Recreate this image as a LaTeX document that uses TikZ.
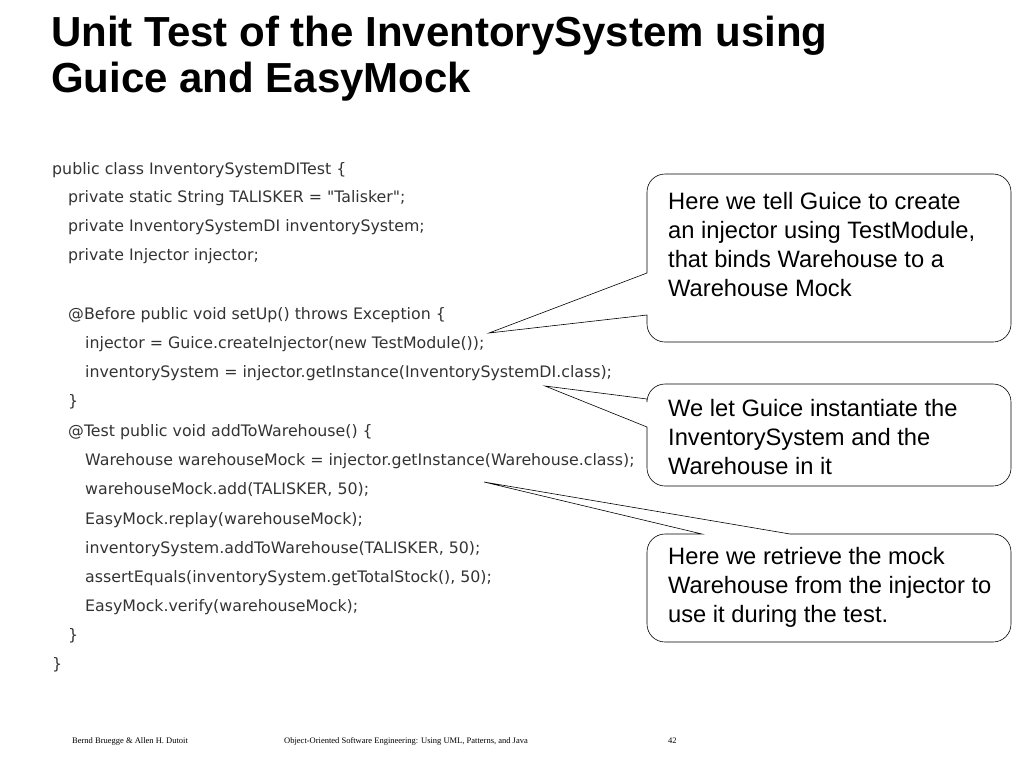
\documentclass[tikz,border=0pt]{standalone}
\usepackage{fontspec}
\setmainfont{Liberation Sans}
\newfontfamily\codefont{DejaVu Sans}
\newfontfamily\footfont{Liberation Serif}

\tikzset{
  code/.style={anchor=west, inner sep=0pt, font=\codefont\fontsize{15.8}{18}\selectfont, text=black!80},
  note/.style={anchor=west, inner sep=0pt, align=left, font=\fontsize{23.7}{29}\selectfont},
  foot/.style={anchor=west, inner sep=0pt, font=\footfont\fontsize{8.5}{10}\selectfont},
  callout/.style={draw=black, line width=0.6pt, fill=white}
}

\begin{document}
\begin{tikzpicture}[x=1pt, y=-1pt]
  \useasboundingbox (0,0) rectangle (1024,768);

  % title
  \node[anchor=west, inner sep=0pt, align=left, font=\bfseries\fontsize{42}{46}\selectfont] (title) at (51,59) {Unit Test of the InventorySystem using\\Guice and EasyMock};

  % code listing
  \node[code] (c1)  at (52,170) {public class InventorySystemDITest \{};
  \node[code] (c2)  at (68,198) {private static String TALISKER = "Talisker";};
  \node[code] (c3)  at (68,227) {private InventorySystemDI inventorySystem;};
  \node[code] (c4)  at (68,256) {private Injector injector;};
  \node[code] (c5)  at (68,315) {@Before public void setUp() throws Exception \{};
  \node[code] (c6)  at (85,344) {injector = Guice.createInjector(new TestModule());};
  \node[code] (c7)  at (85,373) {inventorySystem = injector.getInstance(InventorySystemDI.class);};
  \node[code] (c8)  at (68,402) {\}};
  \node[code] (c9)  at (68,432) {@Test public void addToWarehouse() \{};
  \node[code] (c10) at (85,461) {Warehouse warehouseMock = injector.getInstance(Warehouse.class);};
  \node[code] (c11) at (85,490) {warehouseMock.add(TALISKER, 50);};
  \node[code] (c12) at (85,520) {EasyMock.replay(warehouseMock);};
  \node[code] (c13) at (85,549) {inventorySystem.addToWarehouse(TALISKER, 50);};
  \node[code] (c14) at (85,578) {assertEquals(inventorySystem.getTotalStock(), 50);};
  \node[code] (c15) at (85,607) {EasyMock.verify(warehouseMock);};
  \node[code] (c16) at (68,636) {\}};
  \node[code] (c17) at (52,665) {\}};

  % callouts
  \coordinate (tip1) at (489,333);
  \coordinate (tip2) at (545,386);
  \coordinate (tip3) at (484,482);
  \draw[callout] (tip1) -- (647,273) [rounded corners=18pt] -- (647,174) -- (1011,174) -- (1011,342) -- (647,342) [sharp corners] -- (647,315) -- cycle;
  \draw[callout] (tip2) -- (647,399) [rounded corners=18pt] -- (647,384) -- (1011,384) -- (1011,486) -- (647,486) [sharp corners] -- (647,427) -- cycle;
  \draw[callout] (tip3) -- (702,534) [rounded corners=18pt] -- (647,534) -- (647,642) -- (1011,642) -- (1011,534) [sharp corners] -- (790,534) -- cycle;

  \node[note] (n1) at (668,245) {Here we tell Guice to create\\an injector using TestModule,\\that binds Warehouse to a\\Warehouse Mock};
  \node[note] (n2) at (668,437) {We let Guice instantiate the\\InventorySystem and the\\Warehouse in it};
  \node[note] (n3) at (668,587) {Here we retrieve the mock\\Warehouse from the injector to\\use it during the test.};

  % footer
  \node[foot] (f1) at (72,741) {Bernd Bruegge \& Allen H. Dutoit};
  \node[foot] (f2) at (284,741) {Object-Oriented Software Engineering: Using UML, Patterns, and Java};
  \node[foot] (f3) at (668,741) {42};
\end{tikzpicture}
\end{document}
